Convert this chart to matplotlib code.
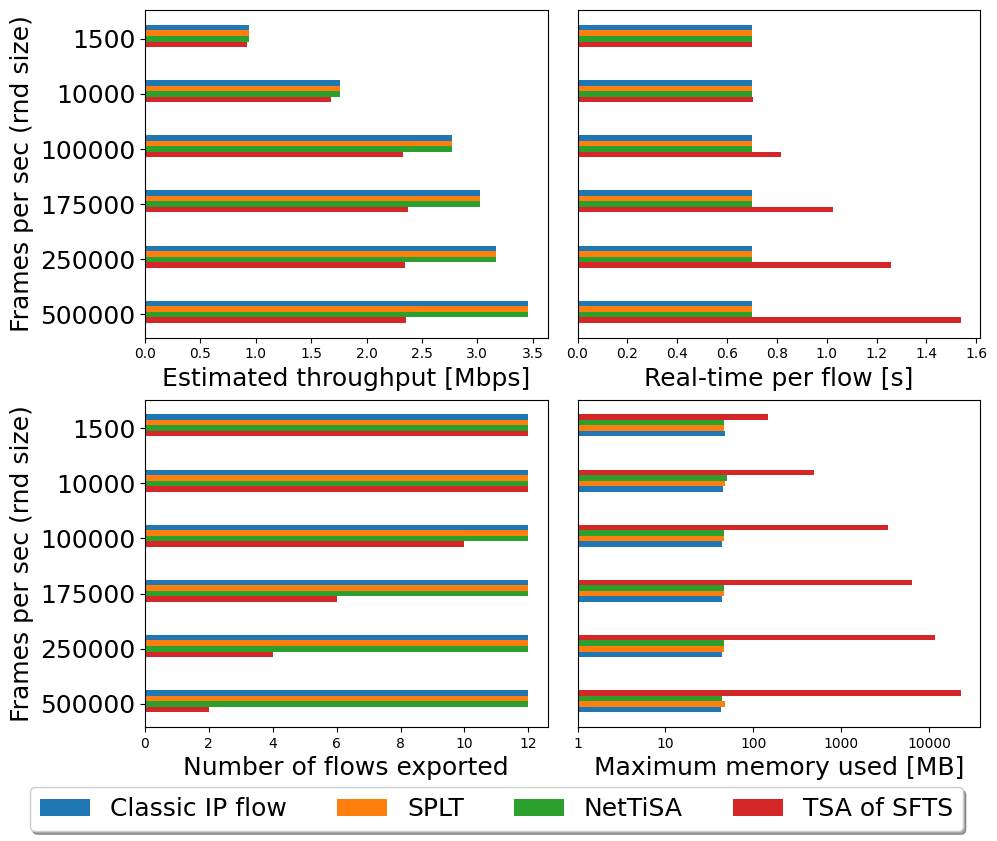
import matplotlib.pyplot as plt
import matplotlib.ticker as mticker
import numpy as np

# ── Data ───────────────────────────────────────────────────────────────────
rates   = ["1500", "10000", "100000", "175000", "250000", "500000"]
methods = ["Classic IP flow", "SPLT", "NetTiSA", "TSA of SFTS"]
colors  = ["#1f77b4", "#ff7f0e", "#2ca02c", "#d62728"]

throughput = {
    "Classic IP flow": [0.935, 1.76, 2.77, 3.02, 3.17, 3.46],
    "SPLT":            [0.935, 1.76, 2.77, 3.02, 3.17, 3.46],
    "NetTiSA":         [0.935, 1.76, 2.77, 3.02, 3.17, 3.46],
    "TSA of SFTS":     [0.925, 1.68, 2.33, 2.37, 2.35, 2.36],
}
realtime = {
    "Classic IP flow": [0.70, 0.70, 0.70, 0.70, 0.70, 0.70],
    "SPLT":            [0.70, 0.70, 0.70, 0.70, 0.70, 0.70],
    "NetTiSA":         [0.70, 0.70, 0.70, 0.70, 0.70, 0.70],
    "TSA of SFTS":     [0.70, 0.704, 0.815, 1.023, 1.256, 1.538],
}
flows = {
    "Classic IP flow": [12, 12, 12, 12, 12, 12],
    "SPLT":            [12, 12, 12, 12, 12, 12],
    "NetTiSA":         [12, 12, 12, 12, 12, 12],
    "TSA of SFTS":     [12, 12, 10, 6, 4, 2],
}
memory = {
    "Classic IP flow": [48, 45, 43.5, 44, 44, 43],
    "SPLT":            [46, 48, 46, 46, 46, 48],
    "NetTiSA":         [46, 50, 46, 46, 46, 44],
    "TSA of SFTS":     [148, 490, 3400, 6400, 11700, 23000],
}

# ── Figure ─────────────────────────────────────────────────────────────────
fig, axes = plt.subplots(2, 2, figsize=(9.97, 8.41), dpi=100, sharey=True)
fig.subplots_adjust(left=0.1454, right=0.983, top=0.988, bottom=0.1355,
                    wspace=0.0745, hspace=0.189)

y = np.arange(len(rates))
bar_h = 0.1


def draw(ax, data, order, xlabel):
    for k, name in enumerate(order):
        c = colors[methods.index(name)]
        ax.barh(y + (k - 2) * bar_h, data[name], height=bar_h,
                color=c, label=name)
    ax.set_xlabel(xlabel, fontsize=18)


draw(axes[0, 0], throughput, methods, "Estimated throughput [Mbps]")
draw(axes[0, 1], realtime, methods, "Real-time per flow [s]")
draw(axes[1, 0], flows, methods, "Number of flows exported")
draw(axes[1, 1], memory, methods[::-1], "Maximum memory used [MB]")

# log axis for memory, plain numbers
ax_mem = axes[1, 1]
ax_mem.set_xscale("log")
ax_mem.set_xlim(1, 38000)
ax_mem.xaxis.set_major_locator(mticker.LogLocator(base=10, numticks=10))
ax_mem.xaxis.set_major_formatter(mticker.FuncFormatter(lambda v, p: f"{v:g}"))
ax_mem.xaxis.set_minor_locator(mticker.NullLocator())

axes[1, 0].set_xticks(np.arange(0, 13, 2))

axes[0, 0].set_yticks(y)
axes[0, 0].set_yticklabels(rates)
axes[0, 0].invert_yaxis()

for ax in axes[:, 0]:
    ax.tick_params(axis="y", labelsize=18)
    ax.set_ylabel("Frames per sec (rnd size)", fontsize=18)
for ax in axes[:, 1]:
    ax.tick_params(axis="y", left=False, labelleft=False)

handles, labels = axes[0, 0].get_legend_handles_labels()
fig.legend(handles, labels, loc="center", bbox_to_anchor=(0.498, 0.0375),
           ncol=4, fontsize=18, shadow=True, fancybox=True)

plt.savefig("out.png")
